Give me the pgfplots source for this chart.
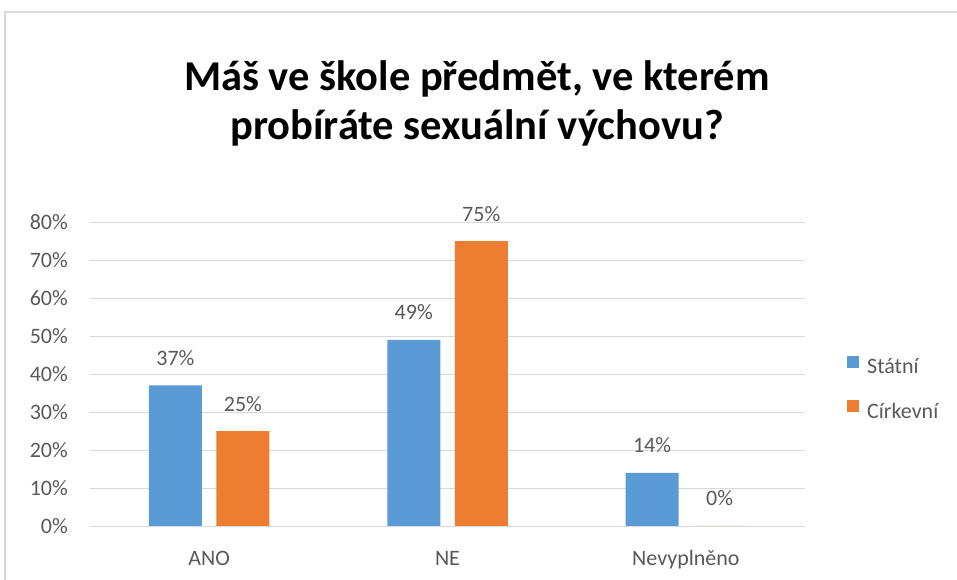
\documentclass[border=0pt]{standalone}
\usepackage{pgfplots}
\pgfplotsset{compat=1.18}
\usepackage{fontspec}
\setmainfont{Carlito}
\definecolor{cblue}{HTML}{5B9BD5}
\definecolor{corange}{HTML}{ED7D31}
\definecolor{ctext}{HTML}{595959}
\definecolor{cgrid}{HTML}{D9D9D9}
\begin{document}
\begin{tikzpicture}[x=1pt,y=1pt]
\path[use as bounding box] (0,0) rectangle (957,580);
\draw[cgrid, line width=1.2pt] (5,-5) -- (5,568) -- (962,568);
\node[anchor=base, font=\fontsize{42.5}{50}\selectfont\bfseries] at (477,489) {Máš ve škole předmět, ve kterém};
\node[anchor=base, font=\fontsize{42.5}{50}\selectfont\bfseries] at (477,440) {probíráte sexuální výchovu?};
\begin{axis}[
  at={(90pt,54pt)}, anchor=south west,
  scale only axis, width=715pt, height=304pt,
  xmin=-0.5, xmax=2.5, ymin=0, ymax=80,
  ybar=14.5pt, bar width=53pt,
  xtick={0,1,2}, xticklabels={ANO,NE,Nevyplněno},
  ytick={0,10,...,80},
  yticklabel={\pgfmathprintnumber{\tick}\%},
  /pgf/number format/assume math mode=true,
  axis line style={draw=none},
  major tick length=0pt,
  ymajorgrids, grid style={cgrid, line width=0.9pt},
  tick label style={font=\fontsize{22}{26}\selectfont, text=ctext},
  yticklabel style={anchor=east, inner sep=0pt, xshift=-22pt},
  xticklabel style={anchor=base, inner sep=0pt, yshift=-39pt},
  nodes near coords={\pgfmathprintnumber{\pgfplotspointmeta}\%},
  every node near coord/.append style={font=\fontsize{22}{26}\selectfont, text=ctext, anchor=base, inner sep=0pt, yshift=20pt},
  legend style={draw=none, fill=none, inner sep=0pt, at={(axis description cs:1.0587,0.56)}, anchor=north west,
    font=\fontsize{22}{26}\selectfont, text=ctext, row sep=23pt,
    /tikz/every odd column/.append style={column sep=6pt}},
  legend cell align=left,
  legend image code/.code={\fill[#1] (0pt,-1pt) rectangle (12pt,11pt);},
]
\addplot[fill=cblue, draw=none] coordinates {(0,37) (1,49) (2,14)};
\addplot[fill=corange, draw=none] coordinates {(0,25) (1,75) (2,0)};
\legend{Státní, Církevní}
\end{axis}
\end{tikzpicture}
\end{document}
